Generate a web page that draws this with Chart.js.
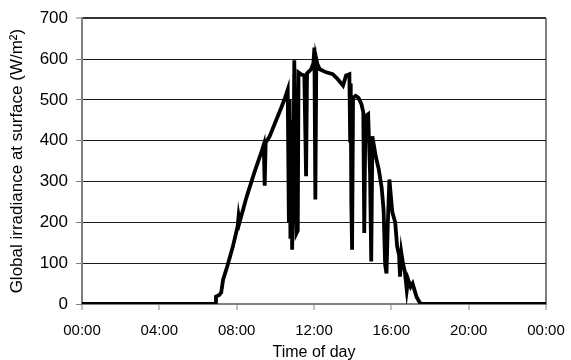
<!DOCTYPE html>
<html lang="en">
<head>
<meta charset="UTF-8">
<title>Global irradiance at surface</title>
<script src="https://cdn.jsdelivr.net/npm/chart.js"></script>
<style>
  html, body { margin: 0; padding: 0; background: #fff; }
  #wrap { width: 571px; height: 360px; }
</style>
</head>
<body>
<div id="wrap"><canvas id="irr"></canvas></div>
<script>
// time of day in hours, and irradiance in W/m2
const hours = [
  0, 6.9, 6.93, 7.1, 7.2, 7.3, 7.5, 7.8, 8.05, 8.1, 8.15, 8.5, 8.9, 9.3, 9.4, 9.45, 9.5,
  9.7, 10.0, 10.3, 10.5, 10.64, 10.7, 10.74, 10.78, 10.82, 10.87, 10.93, 10.98, 11.03,
  11.1, 11.16, 11.2, 11.35, 11.5, 11.59, 11.64, 11.85, 11.97, 12.02, 12.07, 12.12, 12.18,
  12.3, 12.6, 12.97, 13.2, 13.5, 13.66, 13.83, 13.87, 13.9, 13.93, 13.97, 14.02, 14.15,
  14.3, 14.45, 14.55, 14.6, 14.66, 14.8, 14.9, 14.96, 15.02, 15.2, 15.35, 15.5, 15.6,
  15.68, 15.75, 15.82, 15.9, 16.05, 16.2, 16.3, 16.4, 16.45, 16.52, 16.6, 16.7, 16.8,
  16.87, 17.0, 17.1, 17.3, 17.45, 17.55, 24
];
const irradiance = [
  0, 0, 18, 22, 28, 60, 90, 140, 190, 215, 200, 260, 320, 375, 390, 290, 395,
  410, 445, 480, 505, 525, 200, 500, 160, 450, 133, 300, 597, 400,
  174, 180, 567, 562, 560, 313, 565, 575, 590, 628, 256, 600, 587,
  575, 568, 563, 552, 535, 560, 563, 400, 540, 250, 133, 505, 510,
  505, 490, 470, 174, 460, 465, 320, 104, 411, 360, 330, 285, 230,
  96, 75, 200, 305, 225, 200, 141, 120, 67, 125, 100, 79, 34,
  60, 42, 50, 18, 5, 0, 0
];
const yTicks = [0, 100, 200, 300, 400, 500, 600, 700];
const xTickHours = [0, 4, 8, 12, 16, 20, 24];

const family = "'Liberation Sans', Arial, sans-serif";
const pts = hours.map((h, i) => ({ x: h, y: irradiance[i] }));

new Chart(document.getElementById('irr'), {
  type: 'scatter',
  data: {
    datasets: [{
      data: pts,
      showLine: true,
      borderColor: '#000',
      borderWidth: 3.8,
      pointRadius: 0,
      tension: 0
    }]
  },
  options: {
    responsive: true,
    maintainAspectRatio: false,
    animation: false,
    layout: { padding: { left: 2, right: 0, top: 14, bottom: -2 } },
    plugins: { legend: { display: false }, tooltip: { enabled: false } },
    scales: {
      x: {
        type: 'linear',
        min: 0, max: 24,
        afterBuildTicks: axis => { axis.ticks = xTickHours.map(v => ({ value: v })); },
        afterFit: s => { s.height = 58; s.paddingRight = 25; },
        ticks: {
          color: '#000', font: { family, size: 15 }, padding: 12, maxRotation: 0,
          callback: v => String(v % 24).padStart(2, '0') + ':00'
        },
        grid: {
          color: c => (c.index === xTickHours.length - 1 ? '#808080' : 'rgba(0,0,0,0)'),
          lineWidth: 2,
          tickColor: '#808080', tickLength: 6, tickWidth: 1
        },
        border: { color: '#808080', width: 2 },
        title: {
          display: true, text: 'Time of day', color: '#000',
          font: { family, size: 16 }, padding: { top: 0, bottom: 0 }
        }
      },
      y: {
        min: 0, max: 700,
        afterBuildTicks: axis => { axis.ticks = yTicks.map(v => ({ value: v })); },
        afterFit: s => { s.width = 80; },
        ticks: { color: '#000', font: { family, size: 17 }, padding: 8 },
        grid: {
          color: c => (c.tick && c.tick.value === 0 ? '#808080' : (c.tick && c.tick.value === 700 ? '#333' : '#1a1a1a')),
          lineWidth: c => (c.tick && c.tick.value === 700 ? 2 : 1),
          tickColor: '#808080', tickLength: 6, tickWidth: 1
        },
        border: { color: '#808080', width: 2 },
        title: {
          display: true, text: 'Global irradiance at surface (W/m²)', color: '#000',
          font: { family, size: 17 }, padding: 5
        }
      }
    }
  }
});
</script>
</body>
</html>
